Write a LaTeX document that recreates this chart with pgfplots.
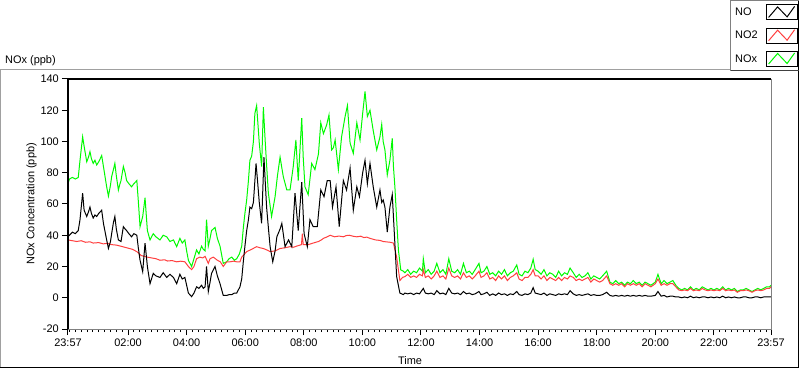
\documentclass[border=0pt]{standalone}
\usepackage{fontspec}
\setmainfont{Liberation Sans}
\usepackage{pgfplots}
\pgfplotsset{compat=1.18}
\definecolor{NOxgreen}{RGB}{0,250,0}
\definecolor{NOtwored}{RGB}{255,64,64}
\definecolor{panelgray}{RGB}{160,160,160}
\definecolor{framegray}{RGB}{128,128,128}
\begin{document}
\begin{tikzpicture}
\begin{axis}[
  name=ax,
  scale only axis, width=703bp, height=250bp,
  at={(0,0)}, anchor=south west,
  xmin=0, xmax=24, ymin=-20, ymax=140,
  axis line style={draw=none},
  font=\fontsize{11}{13}\selectfont,
  /pgf/number format/assume math mode=true,
  tick align=outside, xtick pos=bottom, ytick pos=left,
  major tick length=6bp, minor tick length=3bp,
  every tick/.style={black, line width=1bp},
  xtick={0,2.05,4.05,6.05,8.05,10.05,12.05,14.05,16.05,18.05,20.05,22.05,24},
  xticklabels={23:57,02:00,04:00,06:00,08:00,10:00,12:00,14:00,16:00,18:00,20:00,22:00,23:57},
  minor xtick={0.05,0.25,0.45,0.65,0.85,1.05,1.25,1.45,1.65,1.85,2.25,2.45,2.65,2.85,3.05,3.25,3.45,3.65,3.85,4.25,4.45,4.65,4.85,5.05,5.25,5.45,5.65,5.85,6.25,6.45,6.65,6.85,7.05,7.25,7.45,7.65,7.85,8.25,8.45,8.65,8.85,9.05,9.25,9.45,9.65,9.85,10.25,10.45,10.65,10.85,11.05,11.25,11.45,11.65,11.85,12.25,12.45,12.65,12.85,13.05,13.25,13.45,13.65,13.85,14.25,14.45,14.65,14.85,15.05,15.25,15.45,15.65,15.85,16.25,16.45,16.65,16.85,17.05,17.25,17.45,17.65,17.85,18.25,18.45,18.65,18.85,19.05,19.25,19.45,19.65,19.85,20.25,20.45,20.65,20.85,21.05,21.25,21.45,21.65,21.85,22.25,22.45,22.65,22.85,23.05,23.25,23.45,23.65,23.85},
  ytick={-20,0,20,40,60,80,100,120,140},
  xticklabel style={anchor=north, inner sep=0pt, yshift=-4bp},
  yticklabel style={anchor=east, inner sep=0pt, xshift=-3bp},
  title={NOx (ppb)},
  title style={at={(axis description cs:-0.0896,1.048)}, anchor=west, inner sep=0pt},
  ylabel={NOx Concentration (ppb)},
  every axis y label/.style={at={(axis description cs:-0.052,0.5)}, rotate=90, anchor=center},
  xlabel={Time},
  every axis x label/.style={at={(axis description cs:0.4865,-0.126)}, anchor=center},
  reverse legend,
  legend cell align=left,
  legend plot pos=right,
  legend style={at={(axis description cs:1.0377,1.298)}, anchor=north east, draw=none, fill=none,
    inner sep=0pt, outer sep=0pt, row sep=7.5bp, column sep=6bp, font=\fontsize{11}{13}\selectfont},
  legend image code/.code={\draw[black, line width=0.8bp, fill=white] (0bp,-7.5bp) rectangle (31bp,7.5bp);
    \draw[#1, line width=1bp] (2.5bp,-5bp) -- (11.5bp,5.5bp) -- (21bp,-4.5bp) -- (28.5bp,6bp);},
]
% NOx (green)
\addplot[NOxgreen, line width=1bp] table {
x y
0.00 73
0.05 76
0.15 77
0.25 76
0.35 77
0.41 88
0.50 103
0.55 97
0.64 87
0.70 90
0.75 93.5
0.80 89
0.86 86
0.92 88
0.98 85
1.05 87
1.10 89
1.15 91
1.21 84
1.32 71
1.38 65
1.45 72
1.49 77.5
1.55 82
1.60 86
1.65 78
1.72 69
1.76 72
1.81 75
1.89 84
1.95 80
2.00 75
2.08 73
2.17 71
2.25 73
2.35 75
2.40 62
2.46 45.5
2.55 52
2.63 64
2.71 43
2.80 37
2.91 41
3.00 39
3.14 37
3.25 40
3.37 39
3.48 36
3.60 37
3.71 32.7
3.82 38
3.90 35
3.99 37
4.05 30
4.11 24
4.22 20
4.30 25
4.39 30.6
4.47 28
4.56 33
4.62 31
4.68 30
4.73 50
4.79 33
4.85 38
4.90 43
5.02 45
5.10 38
5.19 33
5.30 22
5.42 23
5.50 25
5.59 26
5.68 24
5.76 25
5.85 28
5.93 33
5.99 45.5
6.04 54
6.10 62.6
6.16 75
6.21 88
6.27 90.6
6.33 100
6.38 118
6.44 123
6.53 99
6.61 84
6.67 122
6.73 101
6.78 85
6.84 67
6.95 52
7.07 64.7
7.15 78
7.24 90
7.35 77.5
7.47 69
7.58 69
7.69 84
7.78 101
7.86 75
7.92 95
7.98 115
8.03 90
8.09 71
8.20 66
8.32 86
8.43 82
8.55 92
8.63 112
8.72 105
8.83 110.6
8.91 117
9.00 94.6
9.06 96
9.12 101
9.23 82
9.34 103
9.46 116
9.54 123
9.63 99
9.74 92.4
9.86 112
9.97 101
10.06 118
10.14 132
10.22 116
10.31 120
10.42 107
10.54 94.6
10.65 103
10.71 111
10.76 100
10.82 94.6
10.90 78.6
10.99 88
11.07 102
11.11 84
11.16 71
11.22 50
11.28 30.6
11.36 17.8
11.45 17
11.5 16
11.6 18
11.7 15
11.8 17
11.9 16
12.0 19
12.1 17
12.13 25
12.2 16
12.3 18
12.4 15
12.5 17
12.59 22
12.7 16
12.8 18
12.9 15
13.0 25
13.1 17
13.2 16
13.3 18
13.4 15
13.5 22
13.6 16
13.7 17
13.8 15
13.9 18
14.03 22
14.1 16
14.2 17
14.3 20
14.4 15
14.5 16
14.6 14
14.7 17
14.8 15
14.9 18
15.0 14
15.1 16
15.2 17
15.32 21
15.4 15
15.5 14
15.6 17
15.7 16
15.8 19
15.88 24.6
15.95 18
16.05 17
16.15 15
16.25 18
16.35 14
16.45 16
16.55 15
16.65 13
16.75 17
16.85 14
16.95 16
17.05 15
17.14 19
17.25 16
17.35 13
17.45 15
17.55 13
17.65 14
17.75 16
17.85 12
17.95 14
18.05 13
18.15 12
18.25 14
18.39 17
18.5 10
18.6 9
18.7 11
18.8 9
18.9 10
19.0 8
19.1 10
19.2 9
19.3 11
19.4 9
19.5 10
19.6 8
19.7 10
19.8 9
19.9 8
20.05 10
20.14 15
20.25 9
20.35 11
20.45 9
20.55 10
20.65 11
20.75 8
20.85 6
20.95 5
21.05 6
21.15 5
21.25 7
21.35 5
21.45 6
21.55 5
21.65 7
21.75 6
21.85 5
21.95 6
22.05 5
22.15 6
22.25 5
22.35 7
22.45 5
22.55 6
22.65 5
22.75 6
22.85 4
22.95 5
23.05 5
23.15 6
23.25 5
23.35 4
23.45 5
23.55 6
23.65 5
23.75 6
23.85 7
23.95 7
24.0 8
};
\addlegendentry{NOx}
% NO2 (red)
\addplot[NOtwored, line width=1bp] table {
x y
0.00 37
0.15 36.5
0.30 36
0.45 36.5
0.60 35.5
0.75 35.8
0.86 35
1.05 35.3
1.20 34.5
1.35 34.8
1.49 34
1.65 33.7
1.80 33
2.00 32
2.20 31
2.35 29.5
2.50 27
2.71 26
2.85 25.5
3.00 25
3.14 24
3.30 24.3
3.40 23.5
3.55 23.8
3.71 23
3.85 23.4
3.99 23
4.11 20
4.22 18
4.30 20
4.39 25
4.50 26
4.60 25.5
4.68 26.5
4.79 22
4.85 25
4.96 26
5.10 24
5.20 23
5.30 20
5.42 23
5.53 23
5.65 23.4
5.76 23
5.87 23
5.93 26
6.10 29.5
6.27 31
6.44 32.7
6.55 32
6.67 31.5
6.80 30.5
6.90 29.5
7.07 30
7.24 31.5
7.41 32
7.58 32.7
7.70 32.3
7.80 33
7.97 34
8.00 41
8.03 34
8.20 34
8.37 35
8.55 36
8.65 37
8.72 38
8.85 39
8.95 40
9.10 39
9.25 39.5
9.40 39
9.50 39.8
9.60 40
9.75 39.3
9.86 39
10.00 39.4
10.10 38.5
10.20 38.8
10.31 38
10.50 37
10.65 36.7
10.76 36
11.00 35.5
11.11 35
11.22 26
11.33 11
11.42 13
11.5 13.5
11.6 15
11.7 13
11.8 14
11.9 13
12.0 15
12.1 14
12.13 18
12.2 13
12.3 14
12.4 12
12.5 14
12.59 17
12.7 13
12.8 14
12.9 12
13.0 19
13.1 14
13.2 13
13.3 14
13.4 12
13.5 16
13.6 13
13.7 14
13.8 12
13.9 14
14.03 17
14.1 13
14.2 14
14.3 16
14.4 12
14.5 13
14.6 11
14.7 14
14.8 12
14.9 14
15.0 11
15.1 13
15.2 14
15.32 16
15.4 12
15.5 11
15.6 13
15.7 13
15.8 15
15.88 18
15.95 14
16.05 14
16.15 12
16.25 14
16.35 11
16.45 13
16.55 12
16.65 11
16.75 13
16.85 11
16.95 13
17.05 12
17.14 14
17.25 13
17.35 11
17.45 12
17.55 11
17.65 12
17.75 13
17.85 10
17.95 12
18.05 11
18.15 10
18.25 11
18.39 14
18.5 9
18.6 8
18.7 9
18.8 8
18.9 9
19.0 7
19.1 9
19.2 8
19.3 9
19.4 8
19.5 9
19.6 7
19.7 9
19.8 8
19.9 7
20.05 9
20.14 12
20.25 8
20.35 9
20.45 8
20.55 9
20.65 9
20.75 7
20.85 5
20.95 4.5
21.05 5
21.15 4.5
21.25 6
21.35 4.5
21.45 5
21.55 4.5
21.65 6
21.75 5
21.85 4.5
21.95 5
22.05 4.5
22.15 5
22.25 4.5
22.35 6
22.45 4.5
22.55 5
22.65 4.5
22.75 5
22.85 3.5
22.95 4.5
23.05 4.5
23.15 5
23.25 4.5
23.35 3.5
23.45 4.5
23.55 5
23.65 4.5
23.75 5
23.85 6
23.95 6
24.0 7
};
\addlegendentry{NO2}
% NO (black)
\addplot[black, line width=1bp] table {
x y
0.00 39
0.05 40
0.15 42
0.25 41
0.35 43
0.41 50
0.50 67
0.55 56
0.64 52
0.70 55
0.75 58
0.80 54
0.86 51
0.92 53
0.98 52
1.05 54
1.10 55
1.15 56
1.21 47.6
1.32 37
1.38 31.6
1.45 36
1.49 41
1.55 48
1.60 52
1.65 44
1.72 37
1.81 36
1.89 45.5
1.95 44
2.00 43
2.08 41
2.17 39
2.25 41
2.35 40
2.40 32
2.46 24
2.55 16.7
2.63 35
2.71 20
2.80 9
2.91 15.6
3.00 14
3.14 13
3.25 16
3.37 13
3.48 15
3.60 13
3.71 9
3.82 15
3.90 12
3.99 13
4.05 8
4.11 3
4.22 0.7
4.30 3
4.39 7
4.47 6
4.56 8
4.62 6
4.68 7
4.73 20
4.79 4
4.85 10
4.90 15.6
5.02 20
5.10 14
5.19 9
5.30 1.5
5.42 1.5
5.50 2
5.59 2
5.68 3
5.76 3
5.87 7
5.93 12
5.99 24
6.04 33
6.10 43
6.16 50
6.21 58
6.27 57
6.33 61
6.42 86
6.47 75
6.53 61
6.61 47.6
6.69 90
6.78 58
6.84 45
6.90 32.7
6.99 23
7.07 30
7.13 39
7.24 44
7.30 47.6
7.41 32.7
7.53 37
7.64 32.7
7.75 67
7.86 43
7.98 74
8.06 41
8.17 32.7
8.26 50
8.37 45.5
8.51 45.5
8.63 69
8.74 64.7
8.85 75
8.95 75
9.03 58
9.15 71
9.26 45.5
9.40 75
9.51 69
9.63 83
9.74 56
9.86 71
9.95 64.7
10.06 80
10.14 88
10.22 73
10.31 86
10.42 71
10.54 58
10.65 69
10.71 61
10.76 62.6
10.82 58
10.90 42
10.99 58
11.07 66
11.13 45
11.22 13.5
11.33 3
11.45 2
11.5 3
11.6 2.5
11.7 3
11.8 2
11.9 3
12.0 2.5
12.13 6
12.2 3
12.3 2.5
12.4 3
12.5 2
12.59 4.5
12.7 2.5
12.8 3
12.9 2
13.0 6
13.1 3
13.2 2.5
13.3 3
13.4 2
13.5 4
13.6 2.5
13.7 3
13.8 2
13.9 2.5
14.03 4
14.1 2
14.2 2.5
14.3 3.5
14.4 1.5
14.5 2.5
14.6 1.5
14.7 3
14.8 2
14.9 2.5
15.0 1.5
15.1 2.5
15.2 2
15.32 4
15.4 2
15.5 1.5
15.6 2.5
15.7 2
15.8 3
15.88 6.5
15.95 3
16.05 2.5
16.15 2
16.25 3
16.35 1.5
16.45 2.5
16.55 2
16.65 1.5
16.75 2.5
16.85 2
16.95 2.5
17.05 2
17.14 4.5
17.25 2.5
17.35 1.5
17.45 2
17.55 1.5
17.65 2
17.75 2.5
17.85 1.5
17.95 2
18.05 1.5
18.15 1.5
18.25 2
18.39 3.5
18.5 1.5
18.6 1
18.7 1.5
18.8 1
18.9 1.5
19.0 1
19.1 1.5
19.2 1
19.3 1.5
19.4 1
19.5 1.5
19.6 1
19.7 1.5
19.8 1
19.9 1
20.05 1.5
20.14 4
20.25 1
20.35 1.5
20.45 0.5
20.55 1
20.65 1
20.75 0.5
20.85 0.5
20.95 0
21.05 0.5
21.15 0
21.25 1
21.35 0
21.45 0.5
21.55 0
21.65 0.5
21.75 0.5
21.85 0
21.95 0.5
22.05 0
22.15 0.5
22.25 0
22.35 1
22.45 0
22.55 0.5
22.65 0
22.75 0.5
22.85 0
22.95 0
23.05 0.5
23.15 0.5
23.25 0
23.35 0
23.45 0.5
23.55 0.5
23.65 0
23.75 0.5
23.85 0.5
23.95 0.5
24.0 0.5
};
\addlegendentry{NO}
\end{axis}
% plot frame: dark left/top, gray right/bottom
\draw[black, line width=1.3bp] (ax.south west) -- (ax.north west) -- (ax.north east);
\draw[framegray, line width=1bp] (ax.north east) -- (ax.south east) -- (ax.south west);
% outer panel
\draw[panelgray, line width=1bp] (-67.5bp,-38bp) -- (-67.5bp,259.5bp) -- (662.5bp,259.5bp);
\draw[black, line width=1bp] (-68bp,-38.5bp) -- (730.5bp,-38.5bp) -- (730.5bp,329bp);
% legend box
\draw[framegray, line width=1bp] (662.5bp,258bp) -- (662.5bp,328.5bp) -- (730.5bp,328.5bp);
\draw[black!75, line width=1bp] (662.5bp,258bp) -- (730.5bp,258bp);
\pgfresetboundingbox
\path[use as bounding box] (-68bp,-40bp) rectangle (732bp,329bp);
\end{tikzpicture}
\end{document}
